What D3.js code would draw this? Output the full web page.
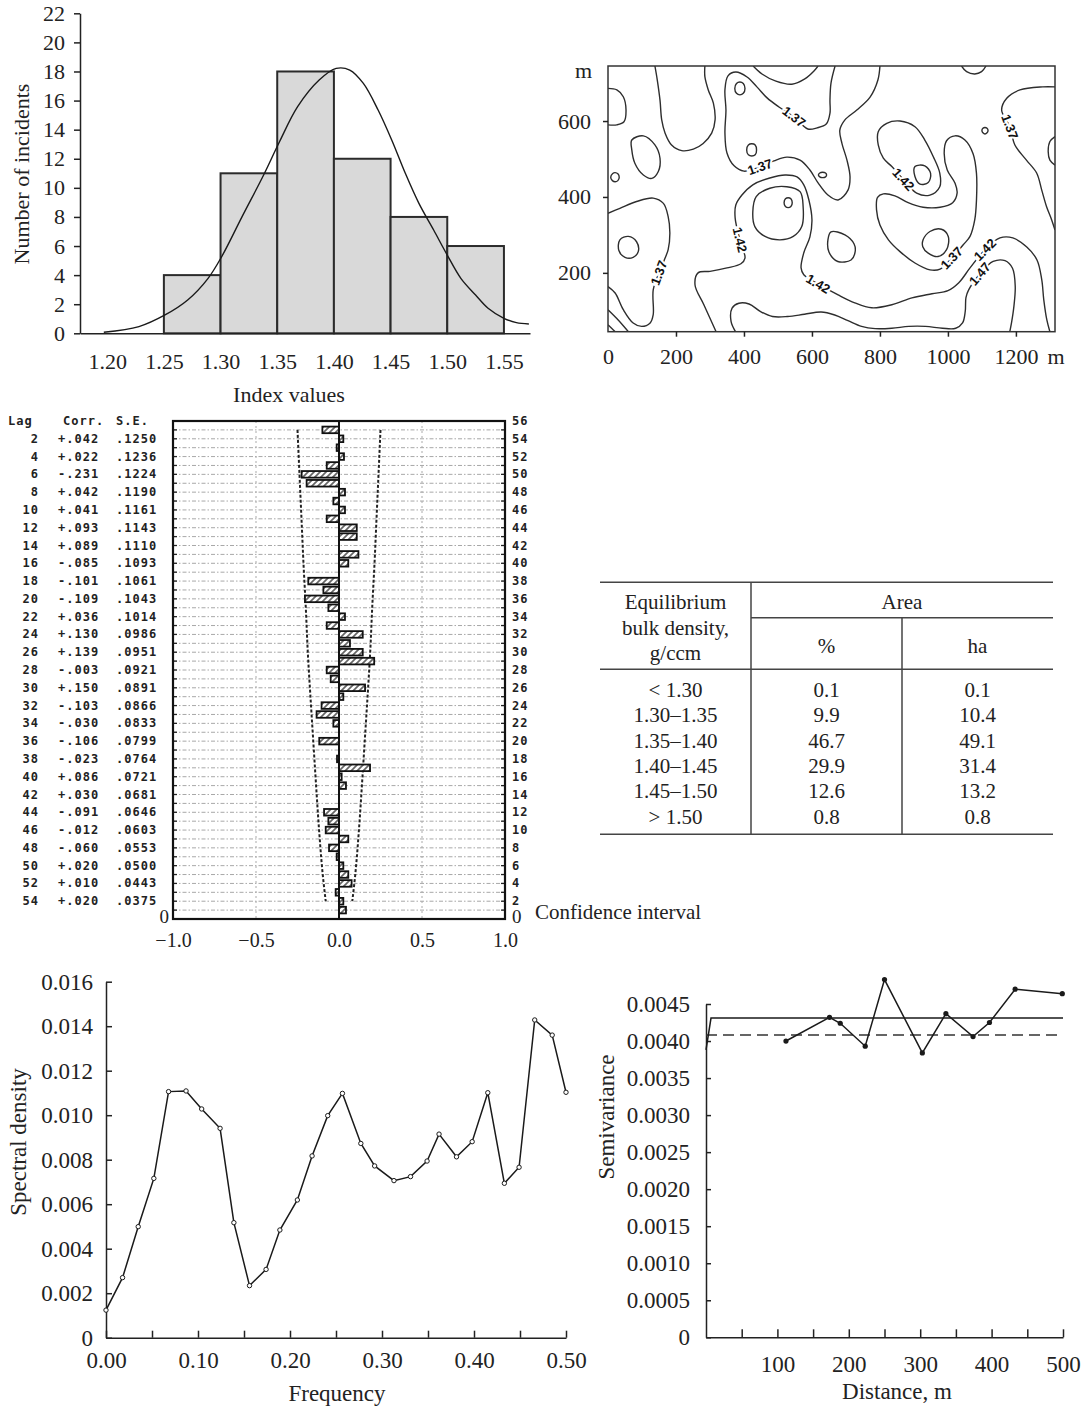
<!DOCTYPE html>
<html><head><meta charset="utf-8">
<script src="https://cdn.jsdelivr.net/npm/d3@7"></script>
<style>
body{margin:0;background:#fff;}
svg{display:block;background:#fff;}
</style></head><body>
<svg id="fig" width="1087" height="1407"></svg>
<script>
// ================= DATA =================
// Histogram
const histBinStart = [1.25, 1.30, 1.35, 1.40, 1.45, 1.50];
const histBinWidth = 0.05;
const histCounts = [4, 11, 18, 12, 8, 6];
const histXTicks = [1.20, 1.25, 1.30, 1.35, 1.40, 1.45, 1.50, 1.55];
const histYTicks = [0, 2, 4, 6, 8, 10, 12, 14, 16, 18, 20, 22];
const fitX = [1.197,1.228,1.251,1.271,1.289,1.301,1.319,1.338,1.352,1.368,1.387,1.402,1.414,1.426,1.439,1.451,1.463,1.475,1.488,1.500,1.512,1.525,1.536,1.550,1.561,1.572];
const fitY = [0.07,0.46,1.26,2.29,3.78,5.27,8.02,10.88,13.17,15.58,17.41,18.21,18.1,17.18,15.35,13.29,11.0,8.93,7.10,5.38,3.78,2.63,1.72,1.03,0.73,0.64];

// Contour map (coordinates in metres)
const mapXTicks = [0, 200, 400, 600, 800, 1000, 1200];
const mapYTicks = [200, 400, 600];
const cA = [[0,686],[26,682],[45,664],[53,629],[47,598],[26,590],[0,590]];
const cB = [[138,745],[145,708],[153,655],[158,603],[168,568],[187,537],[217,522],[251,526],[280,541],[305,568],[315,603],[310,647],[295,682],[285,717],[285,745]];
const cC = [[70,550],[104,561],[138,537],[153,502],[148,467],[129,449],[104,458],[79,489],[70,524]];
const cD = [[8,452],[14,462],[21,464],[29,461],[33,452],[29,443],[21,440],[13,443]];
const cE = [[0,357],[35,370],[84,388],[133,397],[163,383],[177,348],[182,305],[177,261],[168,239],[150,200],[133,155],[133,90],[124,68],[99,59],[74,68],[45,103],[21,147],[0,164]];
const cF = [[35,287],[60,296],[84,282],[89,256],[74,241],[50,241],[32,259]];
const cG1 = [[0,103],[30,76],[60,45]];
const cG2 = [[0,63],[21,45]];
const cH = [[318,45],[282,116],[256,168],[265,200],[300,204],[350,213],[391,224],[403,239],[388,287],[374,345],[376,379],[394,405],[426,432],[476,450],[521,458],[556,453],[576,432],[591,392],[600,340],[594,295],[576,253],[568,213],[576,195],[618,171],[677,142],[726,121],[776,108],[835,116],[894,134],[953,145],[1000,153],[1032,174],[1065,213],[1109,261],[1153,292],[1191,292],[1232,268],[1262,234],[1276,182],[1282,129],[1291,76],[1300,45]];
const cH2 = [[426,361],[436,401],[476,423],[526,427],[565,414],[574,375],[570,322],[545,296],[506,287],[462,296],[432,322]];
const cH3 = [[518,385],[522,395],[530,398],[538,395],[542,385],[538,375],[530,372],[522,375]];
const cI1 = [[373,686],[378,699],[388,703],[398,699],[403,686],[398,673],[388,669],[378,673]];
const cI2 = [[408,524],[413,537],[423,540],[433,537],[437,524],[433,511],[423,508],[413,511]];
const cI3 = [[619,458],[623,463],[631,465],[640,463],[643,458],[640,453],[631,451],[623,453]];
const cJ = [[668,745],[656,700],[653,655],[653,621],[642,592],[615,582],[588,579],[547,611],[503,637],[468,661],[438,690],[409,716],[376,729],[353,719],[344,682],[347,629],[344,569],[350,516],[371,482],[400,468],[447,479],[488,495],[526,505],[565,497],[594,471],[618,437],[647,405],[677,392],[706,418],[712,453],[703,497],[688,542],[682,576],[697,603],[732,629],[771,663],[794,708],[800,745]];
const cK = [[427,745],[453,724],[494,705],[541,697],[579,711],[606,732],[618,745]];
const cL = [[908,410],[947,405],[976,427],[976,463],[957,506],[932,550],[903,585],[859,600],[820,594],[795,572],[795,537],[810,502],[835,480],[869,446]];
const cM = [[903,480],[932,482],[949,462],[942,438],[918,434],[903,454]];
const cN = [[1045,274],[1065,296],[1079,340],[1084,392],[1084,462],[1074,514],[1050,550],[1021,561],[996,548],[989,515],[998,471],[1021,436],[1027,410],[1014,385],[977,373],[927,373],[883,385],[844,403],[810,408],[793,399],[790,366],[800,326],[825,287],[859,256],[903,226],[947,208],[977,210],[1011,239]];
const cO = [[927,287],[947,309],[981,315],[1001,296],[996,261],[971,243],[942,252],[926,269]];
const cV = [[375,45],[362,72],[365,107],[385,120],[415,118],[449,98],[484,85],[528,85],[578,91],[627,97],[667,89],[706,74],[746,59],[786,53],[835,54],[885,59],[934,59],[984,54],[1023,54],[1043,68],[1051,99],[1053,135],[1061,155],[1094,197],[1133,230],[1168,232],[1190,212],[1198,164],[1194,111],[1187,68],[1182,45]];
const cQ = [[1315,690],[1279,690],[1212,682],[1173,660],[1158,629],[1182,585],[1197,537],[1231,497],[1261,463],[1276,418],[1290,375],[1305,340],[1315,313]];
const cR = [[1315,559],[1300,546],[1295,519],[1300,497],[1315,484]];
const cS = [[1100,575],[1103,581],[1109,583],[1115,581],[1118,575],[1115,569],[1109,566],[1103,569]];
const cT = [[1040,745],[1055,730],[1079,724],[1099,730],[1112,745]];
const cU = [[656,308],[697,300],[724,276],[727,255],[715,234],[676,230],[650,255],[647,287]];
const openContours = [cA, cB, cE, cG1, cG2, cH, cJ, cK, cV, cQ, cR, cT];
const closedContours = [cC, cD, cF, cH2, cH3, cI1, cI2, cI3, cL, cM, cN, cO, cS, cU];
const labelLine = [cE, cH, cH, cH, cJ, cJ, cL, cN, cV, cQ];
const labelIndex = [9, 8, 23, 33, 7, 20, 13, 27, 23, 5];
const labelLevel = ["1.37","1.42","1.42","1.42","1.37","1.37","1.42","1.37","1.47","1.37"];

// Autocorrelogram
const corrLags = [1,2,3,4,5,6,7,8,9,10,11,12,13,14,15,16,17,18,19,20,21,22,23,24,25,26,27,28,29,30,31,32,33,34,35,36,37,38,39,40,41,42,43,44,45,46,47,48,49,50,51,52,53,54,55];
const corrValues = [0.042,0.026,-0.02,0.076,0.056,0.026,-0.014,-0.06,0.056,-0.08,-0.064,-0.09,0,0,0.042,0.016,0.187,-0.012,0,-0.119,0,-0.034,-0.135,-0.105,0.026,0.157,-0.05,-0.074,0.212,0.143,0.066,0.143,-0.074,0.036,-0.064,-0.205,-0.094,-0.185,0,0.056,0.117,0,0.107,0.107,-0.074,0.036,-0.034,0.036,-0.195,-0.225,-0.074,0.03,-0.014,0.026,-0.10];
const ciLags = [55, 50, 45, 40, 35, 30, 25, 20, 15, 10, 5, 2];
const ciHalf = [0.25, 0.238, 0.226, 0.214, 0.2, 0.188, 0.172, 0.155, 0.138, 0.12, 0.098, 0.08];
const corrRightTicks = [56,54,52,50,48,46,44,42,40,38,36,34,32,30,28,26,24,22,20,18,16,14,12,10,8,6,4,2];
const corrXTicks = [-1, -0.5, 0, 0.5, 1];
const tableLag = ["2","4","6","8","10","12","14","16","18","20","22","24","26","28","30","32","34","36","38","40","42","44","46","48","50","52","54"];
const tableCorr = ["+.042","+.022","-.231","+.042","+.041","+.093","+.089","-.085","-.101","-.109","+.036","+.130","+.139","-.003","+.150","-.103","-.030","-.106","-.023","+.086","+.030","-.091","-.012","-.060","+.020","+.010","+.020"];
const tableSE = [".1250",".1236",".1224",".1190",".1161",".1143",".1110",".1093",".1061",".1043",".1014",".0986",".0951",".0921",".0891",".0866",".0833",".0799",".0764",".0721",".0681",".0646",".0603",".0553",".0500",".0443",".0375"];

// Table
const densityClasses = ["< 1.30", "1.30\u20131.35", "1.35\u20131.40", "1.40\u20131.45", "1.45\u20131.50", "> 1.50"];
const areaPct = [0.1, 9.9, 46.7, 29.9, 12.6, 0.8];
const areaHa = [0.1, 10.4, 49.1, 31.4, 13.2, 0.8];

// Spectral density
const specFreq = [0,0.018,0.035,0.052,0.068,0.087,0.104,0.124,0.139,0.156,0.174,0.189,0.208,0.224,0.241,0.257,0.277,0.292,0.313,0.331,0.349,0.362,0.381,0.398,0.415,0.433,0.449,0.466,0.485,0.5];
const specDensity = [0.00124,0.0027,0.00499,0.00716,0.01106,0.01109,0.01028,0.00941,0.00517,0.00234,0.00307,0.00484,0.00619,0.00817,0.00998,0.01098,0.00873,0.00772,0.00706,0.00724,0.00794,0.00915,0.00813,0.00881,0.01101,0.00694,0.00766,0.01428,0.0136,0.01103];
const specXTicks = [0,0.05,0.1,0.15,0.2,0.25,0.3,0.35,0.4,0.45,0.5];
const specXLabels = [0,0.1,0.2,0.3,0.4,0.5];
const specYTicks = [0,0.002,0.004,0.006,0.008,0.010,0.012,0.014,0.016];

// Semivariogram
const semiDist = [112,173,188,223,250,303,336,374,397,433,499];
const semiGamma = [0.00400,0.00432,0.00424,0.00393,0.00483,0.00384,0.00437,0.00406,0.00425,0.00470,0.00464];
const modelDist = [0, 7, 500];
const modelGamma = [0.00388, 0.00431, 0.00431];
const sampleVariance = 0.00408;
const semiXTicks = [50,100,150,200,250,300,350,400,450,500];
const semiXLabels = [100,200,300,400,500];
const semiYTicks = [0,0.0005,0.0010,0.0015,0.0020,0.0025,0.0030,0.0035,0.0040,0.0045];

// ================= DRAWING =================
const SERIF = '"Liberation Serif","Times New Roman",serif';
const INK = "#222";
const svg = d3.select("#fig");

function styleAxis(g, size){
  g.attr("font-family", SERIF).attr("font-size", size);
  g.selectAll("path.domain").attr("stroke", INK).attr("stroke-width", 1.5);
  g.selectAll(".tick line").attr("stroke", INK).attr("stroke-width", 1.5);
  g.selectAll(".tick text").attr("fill", INK);
  return g;
}
function addText(g, x, y, txt, size, opts = {}){
  const t = g.append("text").attr("x", x).attr("y", y).text(txt)
    .attr("font-family", opts.family || SERIF).attr("font-size", size)
    .attr("fill", opts.fill || INK).attr("text-anchor", opts.anchor || "middle")
    .attr("dominant-baseline", opts.baseline || "central");
  if (opts.rotate) t.attr("transform", `rotate(${opts.rotate},${x},${y})`);
  if (opts.weight) t.attr("font-weight", opts.weight);
  return t;
}

// ---------- Histogram ----------
{
  const hx = d3.scaleLinear().domain([1.176, 1.573]).range([80, 530]);
  const hy = d3.scaleLinear().domain([0, 22]).range([333.3, 13.3]);
  const g = svg.append("g");
  g.selectAll("rect.bar").data(histBinStart).join("rect").attr("class","bar")
    .attr("x", d => hx(d)).attr("width", d => hx(d + histBinWidth) - hx(d))
    .attr("y", (d, i) => hy(histCounts[i])).attr("height", (d, i) => hy(0) - hy(histCounts[i]))
    .attr("fill", "#d9d9d9").attr("stroke", "#2b2b2b").attr("stroke-width", 2);
  const fit = fitX.map((x, i) => [x, fitY[i]]);
  g.append("path").datum(fit)
    .attr("d", d3.line().x(d => hx(d[0])).y(d => hy(d[1])).curve(d3.curveCatmullRom))
    .attr("fill", "none").attr("stroke", "#1a1a1a").attr("stroke-width", 1.4);
  styleAxis(g.append("g").attr("transform", "translate(80,0)")
    .call(d3.axisLeft(hy).tickValues(histYTicks).tickSize(6).tickPadding(9).tickSizeOuter(0).tickFormat(d3.format("d"))), 22);
  styleAxis(g.append("g").attr("transform", "translate(0,333.3)")
    .call(d3.axisBottom(hx).tickValues(histXTicks).tickSize(0).tickPadding(20).tickSizeOuter(0).tickFormat(d3.format(".2f"))), 22);
  addText(g, 289, 394, "Index values", 22);
  addText(g, 21, 174, "Number of incidents", 22, {rotate: -90});
}

// ---------- Contour map ----------
{
  const mx = d3.scaleLinear().domain([0, 1315]).range([608, 1055]);
  const my = d3.scaleLinear().domain([45, 745]).range([331.7, 66]);
  const g = svg.append("g");
  svg.append("defs").append("clipPath").attr("id", "mapclip").append("rect")
    .attr("x", mx(0)).attr("y", my(745)).attr("width", mx(1315) - mx(0)).attr("height", my(45) - my(745));
  const lc = g.append("g").attr("clip-path", "url(#mapclip)");
  const lineOpen = d3.line().x(d => mx(d[0])).y(d => my(d[1])).curve(d3.curveCatmullRom.alpha(0.5));
  const lineClosed = d3.line().x(d => mx(d[0])).y(d => my(d[1])).curve(d3.curveCatmullRomClosed.alpha(0.5));
  lc.selectAll("path.o").data(openContours).join("path").attr("class","o").attr("d", lineOpen)
    .attr("fill", "none").attr("stroke", "#2e2e2e").attr("stroke-width", 1.4);
  lc.selectAll("path.c").data(closedContours).join("path").attr("class","c").attr("d", lineClosed)
    .attr("fill", "none").attr("stroke", "#2e2e2e").attr("stroke-width", 1.4);
  // labels
  labelLine.forEach((pts, k) => {
    const i = labelIndex[k], n = pts.length;
    const closed = closedContours.includes(pts);
    const p = pts[i];
    const a = pts[closed ? (i - 1 + n) % n : Math.max(0, i - 1)];
    const b = pts[closed ? (i + 1) % n : Math.min(n - 1, i + 1)];
    let ang = Math.atan2(my(b[1]) - my(a[1]), mx(b[0]) - mx(a[0])) * 180 / Math.PI;
    if (ang > 90) ang -= 180;
    if (ang < -90) ang += 180;
    const x = mx(p[0]), y = my(p[1]);
    g.append("text").attr("x", x).attr("y", y).text(labelLevel[k])
      .attr("transform", `rotate(${ang},${x},${y})`)
      .attr("font-family", '"Liberation Sans",Arial,sans-serif').attr("font-weight", "bold")
      .attr("font-size", 13).attr("text-anchor", "middle").attr("dominant-baseline", "central")
      .attr("fill", "#111").attr("stroke", "#fff").attr("stroke-width", 4).attr("paint-order", "stroke");
  });
  g.append("rect").attr("x", mx(0)).attr("y", my(745)).attr("width", mx(1315) - mx(0)).attr("height", my(45) - my(745))
    .attr("fill", "none").attr("stroke", "#333").attr("stroke-width", 1.5);
  const ax = styleAxis(g.append("g").attr("transform", `translate(0,${my(45)})`)
    .call(d3.axisBottom(mx).tickValues(mapXTicks).tickSize(5).tickPadding(12).tickSizeOuter(0).tickFormat(d3.format("d"))), 22);
  ax.select("path.domain").remove();
  ax.selectAll(".tick").filter(d => d === 0).select("line").remove();
  const ay = styleAxis(g.append("g").attr("transform", `translate(${mx(0)},0)`)
    .call(d3.axisLeft(my).tickValues(mapYTicks).tickSize(5).tickPadding(12).tickSizeOuter(0).tickFormat(d3.format("d"))), 22);
  ay.select("path.domain").remove();
  addText(g, 1056, my(45) + 17 + 8, "m", 22);
  addText(g, 592, 70, "m", 22, {anchor: "end"});
}

// ---------- Autocorrelogram ----------
{
  const cx = d3.scaleLinear().domain([-1, 1]).range([173, 505]);
  const cy = d3.scaleLinear().domain([0, 56]).range([919, 421]);
  const g = svg.append("g");
  const defs = svg.append("defs");
  const pat = defs.append("pattern").attr("id", "hatch").attr("patternUnits", "userSpaceOnUse")
    .attr("width", 6).attr("height", 6);
  pat.append("rect").attr("width", 6).attr("height", 6).attr("fill", "#fff");
  pat.append("path").attr("d", "M0,6 L6,0 M-1,1 L1,-1 M5,7 L7,5").attr("stroke", "#666").attr("stroke-width", 1.7);
  // grid
  g.selectAll("line.hg").data(corrLags).join("line").attr("class","hg")
    .attr("x1", cx(-1)).attr("x2", cx(1)).attr("y1", d => cy(d)).attr("y2", d => cy(d))
    .attr("stroke", "#a8a8a8").attr("stroke-width", 1).attr("stroke-dasharray", "4,2,1.5,2");
  g.selectAll("line.vg").data([-0.5, 0.5]).join("line").attr("class","vg")
    .attr("x1", d => cx(d)).attr("x2", d => cx(d)).attr("y1", cy(56)).attr("y2", cy(0))
    .attr("stroke", "#aaa").attr("stroke-width", 1).attr("stroke-dasharray", "2,3");
  // confidence limits
  const ci = ciLags.map((l, i) => [l, ciHalf[i]]);
  [-1, 1].forEach(s => {
    g.append("path").datum(ci)
      .attr("d", d3.line().x(d => cx(s * d[1])).y(d => cy(d[0])).curve(d3.curveMonotoneY))
      .attr("fill", "none").attr("stroke", "#222").attr("stroke-width", 2).attr("stroke-dasharray", "3,2");
  });
  // bars
  const bars = corrLags.map((l, i) => [l, corrValues[i]]).filter(d => d[1] !== 0);
  g.selectAll("rect.cb").data(bars).join("rect").attr("class","cb")
    .attr("x", d => cx(Math.min(0, d[1]))).attr("width", d => Math.abs(cx(d[1]) - cx(0)))
    .attr("y", d => cy(d[0]) - 3.3).attr("height", 6.6)
    .attr("fill", "url(#hatch)").attr("stroke", "#111").attr("stroke-width", 1.8);
  g.append("line").attr("x1", cx(0)).attr("x2", cx(0)).attr("y1", cy(56)).attr("y2", cy(0))
    .attr("stroke", "#111").attr("stroke-width", 2);
  // frame ticks
  g.selectAll("line.lt").data(corrLags).join("line").attr("class","lt")
    .attr("x1", cx(-1)).attr("x2", cx(-1) + 4).attr("y1", d => cy(d)).attr("y2", d => cy(d))
    .attr("stroke", "#222").attr("stroke-width", 1.3);
  g.selectAll("line.rt").data(corrLags).join("line").attr("class","rt")
    .attr("x1", cx(1)).attr("x2", cx(1) - 4).attr("y1", d => cy(d)).attr("y2", d => cy(d))
    .attr("stroke", "#222").attr("stroke-width", 1.3);
  g.append("rect").attr("x", cx(-1)).attr("y", cy(56)).attr("width", cx(1) - cx(-1)).attr("height", cy(0) - cy(56))
    .attr("fill", "none").attr("stroke", "#111").attr("stroke-width", 2.2);
  const axb = styleAxis(g.append("g").attr("transform", `translate(0,${cy(0)})`)
    .call(d3.axisBottom(cx).tickValues(corrXTicks).tickSize(0).tickPadding(14).tickFormat(d3.format(".1f"))), 20);
  axb.select("path.domain").remove();
  addText(g, 169, cy(0) - 3, "0", 19, {anchor: "end"});
  addText(g, 512, cy(0) - 3, "0", 19, {anchor: "start"});
  addText(g, 535, 912, "Confidence interval", 21, {anchor: "start"});
  const MONO = '"DejaVu Sans Mono",monospace';
  g.selectAll("text.rl").data(corrRightTicks).join("text").attr("class","rl")
    .attr("x", 512).attr("y", d => cy(d)).text(d => d)
    .attr("font-family", MONO).attr("font-weight", "bold").attr("font-size", 12).attr("letter-spacing", 1)
    .attr("fill", "#222").attr("dominant-baseline", "central");
  // left statistics table
  const rowY = i => cy(56 - (i + 1) * 2);
  const tl = g.append("g").attr("font-family", MONO).attr("font-weight", "bold").attr("font-size", 12)
    .attr("fill", "#222").attr("letter-spacing", 1);
  tl.append("text").attr("x", 8).attr("y", cy(56)).attr("dominant-baseline", "central").text("Lag");
  tl.append("text").attr("x", 63).attr("y", cy(56)).attr("dominant-baseline", "central").text("Corr.");
  tl.append("text").attr("x", 116).attr("y", cy(56)).attr("dominant-baseline", "central").text("S.E.");
  tl.selectAll("text.lg").data(tableLag).join("text").attr("class","lg")
    .attr("x", 39).attr("y", (d, i) => rowY(i)).attr("text-anchor", "end").attr("dominant-baseline", "central").text(d => d);
  tl.selectAll("text.cr").data(tableCorr).join("text").attr("class","cr")
    .attr("x", 58).attr("y", (d, i) => rowY(i)).attr("dominant-baseline", "central").text(d => d);
  tl.selectAll("text.se").data(tableSE).join("text").attr("class","se")
    .attr("x", 116).attr("y", (d, i) => rowY(i)).attr("dominant-baseline", "central").text(d => d);
}

// ---------- Table ----------
{
  const g = svg.append("g");
  const L = 600, R = 1053, C1 = 751, C2 = 902;
  const yTop = 582.3, yArea = 617.7, yHead = 669.3, yBot = 834.3;
  const ln = (x1, y1, x2, y2) => g.append("line").attr("x1", x1).attr("y1", y1).attr("x2", x2).attr("y2", y2)
    .attr("stroke", "#444").attr("stroke-width", 1.5);
  ln(L, yTop, R, yTop); ln(C1, yArea, R, yArea); ln(L, yHead, R, yHead); ln(L, yBot, R, yBot);
  ln(C1, yTop, C1, yBot); ln(C2, yArea, C2, yBot);
  const colX = [675.5, 826.5, 977.5];
  addText(g, colX[0], 601.7, "Equilibrium", 21);
  addText(g, colX[0], 628, "bulk density,", 21);
  addText(g, colX[0], 652.7, "g/ccm", 21);
  addText(g, 902, 601.7, "Area", 21);
  addText(g, colX[1], 646, "%", 21);
  addText(g, colX[2], 646, "ha", 21);
  const rowY = i => 690 + i * 25.3;
  g.selectAll("text.c0").data(densityClasses).join("text").attr("class","c0")
    .attr("x", colX[0]).attr("y", (d, i) => rowY(i)).text(d => d);
  g.selectAll("text.c1").data(areaPct).join("text").attr("class","c1")
    .attr("x", colX[1]).attr("y", (d, i) => rowY(i)).text(d => d.toFixed(1));
  g.selectAll("text.c2").data(areaHa).join("text").attr("class","c2")
    .attr("x", colX[2]).attr("y", (d, i) => rowY(i)).text(d => d.toFixed(1));
  g.selectAll("text.c0,text.c1,text.c2").attr("font-family", SERIF).attr("font-size", 21)
    .attr("fill", INK).attr("text-anchor", "middle").attr("dominant-baseline", "central");
}

// ---------- Spectral density ----------
{
  const sx = d3.scaleLinear().domain([0, 0.5]).range([106, 566]);
  const sy = d3.scaleLinear().domain([0, 0.016]).range([1337.7, 981.7]);
  const g = svg.append("g");
  styleAxis(g.append("g").attr("transform", "translate(106,0)")
    .call(d3.axisLeft(sy).tickValues(specYTicks).tickSize(-6).tickPadding(13).tickSizeOuter(0)
      .tickFormat(d => d === 0 ? "0" : d3.format(".3f")(d))), 23);
  styleAxis(g.append("g").attr("transform", "translate(0,1337.7)")
    .call(d3.axisBottom(sx).tickValues(specXTicks).tickSize(-7).tickPadding(14).tickSizeOuter(0)
      .tickFormat(d => specXLabels.some(v => Math.abs(v - d) < 1e-9) ? d3.format(".2f")(d) : "")), 23);
  const pts = specFreq.map((f, i) => [f, specDensity[i]]);
  g.append("path").datum(pts).attr("d", d3.line().x(d => sx(d[0])).y(d => sy(d[1])))
    .attr("fill", "none").attr("stroke", "#1a1a1a").attr("stroke-width", 1.5);
  g.selectAll("circle").data(pts).join("circle").attr("cx", d => sx(d[0])).attr("cy", d => sy(d[1]))
    .attr("r", 2.2).attr("fill", "#fff").attr("stroke", "#1a1a1a").attr("stroke-width", 1);
  addText(g, 337, 1393, "Frequency", 23);
  addText(g, 18, 1142, "Spectral density", 23, {rotate: -90});
}

// ---------- Semivariogram ----------
{
  const vx = d3.scaleLinear().domain([0, 500]).range([706, 1063]);
  const vy = d3.scaleLinear().domain([0, 0.0045]).range([1337.3, 1004]);
  const g = svg.append("g");
  styleAxis(g.append("g").attr("transform", "translate(706,0)")
    .call(d3.axisLeft(vy).tickValues(semiYTicks).tickSize(-5).tickPadding(16).tickSizeOuter(0)
      .tickFormat(d => d === 0 ? "0" : d3.format(".4f")(d))), 23);
  styleAxis(g.append("g").attr("transform", "translate(0,1337.3)")
    .call(d3.axisBottom(vx).tickValues(semiXTicks).tickSize(-8).tickPadding(18).tickSizeOuter(0)
      .tickFormat(d => semiXLabels.includes(d) ? d3.format("d")(d) : "")), 23);
  g.append("line").attr("x1", vx(0)).attr("x2", vx(500)).attr("y1", vy(sampleVariance)).attr("y2", vy(sampleVariance))
    .attr("stroke", "#333").attr("stroke-width", 1.5).attr("stroke-dasharray", "11,6");
  const model = modelDist.map((d, i) => [d, modelGamma[i]]);
  g.append("path").datum(model).attr("d", d3.line().x(d => vx(d[0])).y(d => vy(d[1])))
    .attr("fill", "none").attr("stroke", "#1a1a1a").attr("stroke-width", 1.5);
  const pts = semiDist.map((d, i) => [d, semiGamma[i]]);
  g.append("path").datum(pts).attr("d", d3.line().x(d => vx(d[0])).y(d => vy(d[1])))
    .attr("fill", "none").attr("stroke", "#1a1a1a").attr("stroke-width", 1.5);
  g.selectAll("circle").data(pts).join("circle").attr("cx", d => vx(d[0])).attr("cy", d => vy(d[1]))
    .attr("r", 2.6).attr("fill", "#1a1a1a");
  addText(g, 897, 1391, "Distance, m", 23);
  addText(g, 606, 1117, "Semivariance", 23, {rotate: -90});
}
</script>
</body></html>
